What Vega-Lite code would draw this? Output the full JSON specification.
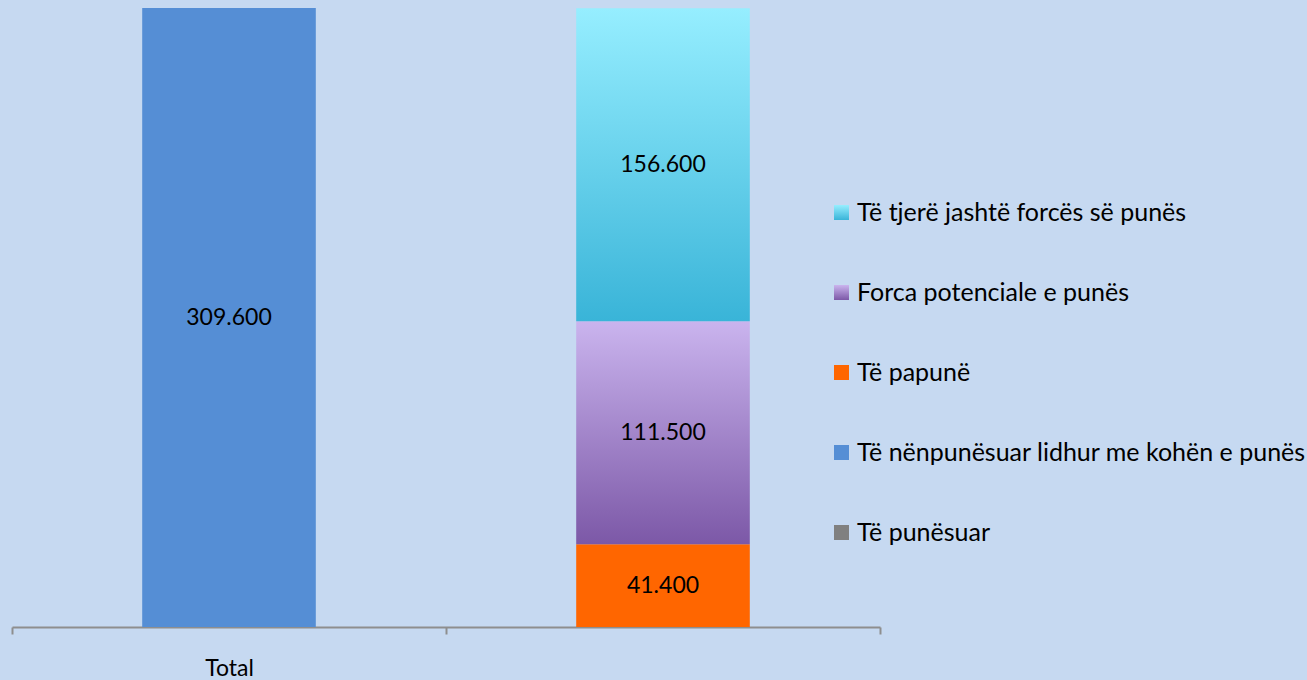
{
  "$schema": "https://vega.github.io/schema/vega-lite/v6.json",
  "width": 868,
  "height": 619,
  "autosize": {"type": "none"},
  "padding": {"left": 12, "top": 8, "right": 427, "bottom": 53},
  "background": "#C6D9F1",
  "config": {
    "view": {"stroke": null},
    "font": "Lato",
    "text": {"font": "Lato"}
  },
  "data": {
    "values": [
      {"cat": "Total", "series": "Të nënpunësuar lidhur me kohën e punës", "value": 309.6, "ord": 2},
      {"cat": "B", "series": "Të papunë", "value": 41.4, "ord": 3},
      {"cat": "B", "series": "Forca potenciale e punës", "value": 111.5, "ord": 4},
      {"cat": "B", "series": "Të tjerë jashtë forcës së punës", "value": 156.6, "ord": 5}
    ]
  },
  "encoding": {
    "x": {
      "field": "cat",
      "type": "nominal",
      "sort": ["Total", "B"],
      "scale": {"paddingInner": 0, "paddingOuter": 0},
      "axis": {
        "title": null,
        "labelAngle": 0,
        "labelExpr": "datum.value == 'Total' ? 'Total' : ''",
        "labelFont": "Lato",
        "labelFontSize": 23,
        "labelColor": "#000000",
        "labelPadding": 23,
        "tickBand": "extent",
        "tickSize": 7,
        "tickWidth": 2,
        "tickColor": "#8E8E8E",
        "domainColor": "#8E8E8E",
        "domainWidth": 2,
        "grid": false
      }
    }
  },
  "layer": [
    {
      "mark": {"type": "bar", "width": {"band": 0.4}},
      "encoding": {
        "y": {
          "field": "value",
          "type": "quantitative",
          "stack": "zero",
          "scale": {"domain": [0, 309.6], "nice": false},
          "axis": null
        },
        "order": {"field": "ord", "type": "quantitative"},
        "color": {
          "field": "series",
          "type": "nominal",
          "scale": {
            "domain": [
              "Të tjerë jashtë forcës së punës",
              "Forca potenciale e punës",
              "Të papunë",
              "Të nënpunësuar lidhur me kohën e punës",
              "Të punësuar"
            ],
            "range": [
              {"expr": "{'gradient': 'linear', 'x1': 0, 'y1': 0, 'x2': 0, 'y2': 1, 'stops': [{'offset': 0, 'color': '#96EEFF'}, {'offset': 1, 'color': '#39B4D8'}]}"},
              {"expr": "{'gradient': 'linear', 'x1': 0, 'y1': 0, 'x2': 0, 'y2': 1, 'stops': [{'offset': 0, 'color': '#CAB4EE'}, {'offset': 1, 'color': '#7C58A7'}]}"},
              "#FF6600",
              "#558ED5",
              "#808080"
            ]
          },
          "legend": {
            "title": null,
            "orient": "none",
            "legendX": 817,
            "legendY": 192,
            "padding": 0,
            "symbolType": "square",
            "symbolSize": 225,
            "symbolStrokeWidth": 0,
            "labelFont": "Lato",
            "labelFontSize": 25,
            "labelColor": "#000000",
            "labelOffset": 3,
            "labelLimit": 600,
            "rowPadding": 54
          }
        }
      }
    },
    {
      "mark": {"type": "text", "fontSize": 23, "font": "Lato", "color": "#000000", "baseline": "middle"},
      "encoding": {
        "y": {
          "field": "value",
          "type": "quantitative",
          "stack": "zero",
          "bandPosition": 0.5
        },
        "order": {"field": "ord", "type": "quantitative"},
        "detail": {"field": "series"},
        "text": {"field": "value", "type": "quantitative", "format": ".3f"}
      }
    }
  ]
}
